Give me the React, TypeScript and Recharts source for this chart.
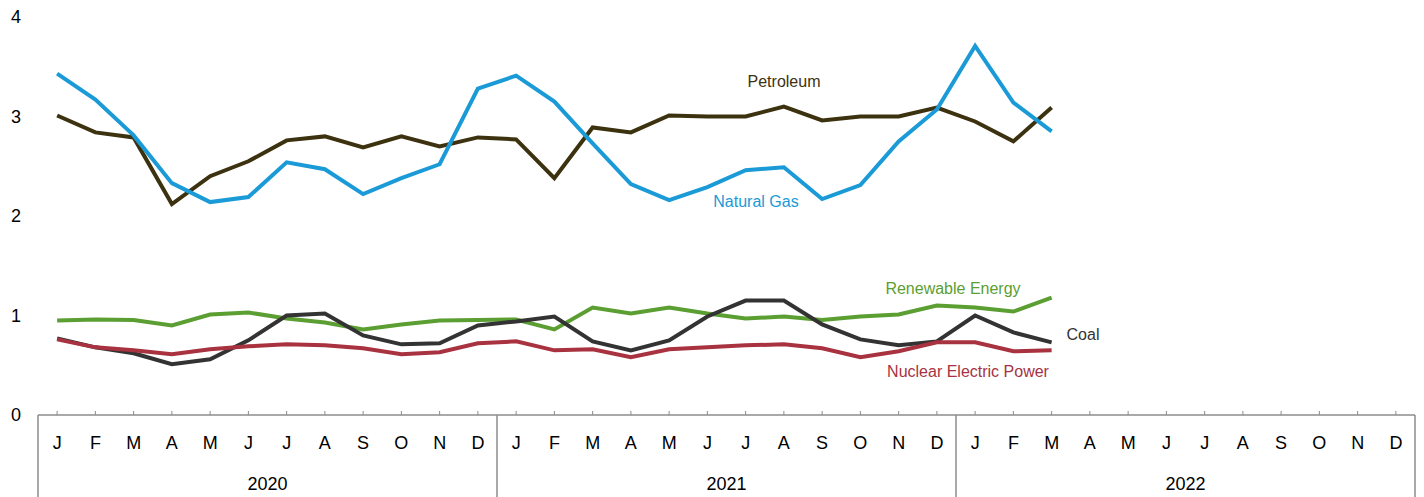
import React from 'react';
import { LineChart, Line, XAxis, YAxis, Customized } from 'recharts';

const months = ['J', 'F', 'M', 'A', 'M', 'J', 'J', 'A', 'S', 'O', 'N', 'D'];
const years = ['2020', '2021', '2022'];

// monthly values, Jan 2020 .. Mar 2022
const petroleum = [3.01, 2.84, 2.79, 2.12, 2.4, 2.55, 2.76, 2.8, 2.69, 2.8, 2.7, 2.79,
  2.77, 2.38, 2.89, 2.84, 3.01, 3.0, 3.0, 3.1, 2.96, 3.0, 3.0, 3.09,
  2.95, 2.75, 3.09];
const naturalGas = [3.43, 3.17, 2.81, 2.33, 2.14, 2.19, 2.54, 2.47, 2.22, 2.38, 2.52, 3.28,
  3.41, 3.15, 2.73, 2.32, 2.16, 2.29, 2.46, 2.49, 2.17, 2.31, 2.75, 3.07,
  3.71, 3.14, 2.85];
const renewable = [0.95, 0.96, 0.955, 0.9, 1.01, 1.03, 0.97, 0.93, 0.86, 0.91, 0.95, 0.955,
  0.96, 0.86, 1.08, 1.02, 1.08, 1.02, 0.97, 0.99, 0.955, 0.99, 1.01, 1.1,
  1.08, 1.04, 1.18];
const coal = [0.77, 0.68, 0.62, 0.51, 0.56, 0.75, 1.0, 1.02, 0.8, 0.71, 0.72, 0.9,
  0.94, 0.99, 0.74, 0.65, 0.75, 0.99, 1.15, 1.15, 0.91, 0.76, 0.7, 0.74,
  1.0, 0.83, 0.73];
const nuclear = [0.76, 0.68, 0.65, 0.61, 0.66, 0.69, 0.71, 0.7, 0.67, 0.61, 0.63, 0.72,
  0.74, 0.65, 0.66, 0.58, 0.66, 0.68, 0.7, 0.71, 0.67, 0.58, 0.64, 0.73,
  0.73, 0.64, 0.65];

const yTicks = [0, 1, 2, 3, 4];

const data = years.flatMap((yr, yi) =>
  months.map((m, mi) => {
    const i = yi * 12 + mi;
    return {
      key: `${yr}-${mi}`,
      month: m,
      petroleum: petroleum[i] ?? null,
      naturalGas: naturalGas[i] ?? null,
      renewable: renewable[i] ?? null,
      coal: coal[i] ?? null,
      nuclear: nuclear[i] ?? null,
    };
  })
);

const FONT = '"Liberation Sans", Arial, sans-serif';
const GRID = '#8c8c8c';
const BAND = 1377 / 36;

const MonthTick = (props: any) => {
  const { x, y, index } = props;
  const mi = index % 12;
  const yi = Math.floor(index / 12);
  return (
    <g>
      <line x1={x} x2={x} y1={y - 4} y2={y} stroke={GRID} strokeWidth={1} />
      <text x={x} y={y + 34} textAnchor="middle" fontSize={18} fill="#000" fontFamily={FONT}>
        {months[mi]}
      </text>
      {mi === 0 && (
        <line x1={x - BAND / 2} x2={x - BAND / 2} y1={y} y2={y + 90} stroke={GRID} strokeWidth={1.5} />
      )}
      {index === 35 && (
        <line x1={x + BAND / 2} x2={x + BAND / 2} y1={y} y2={y + 90} stroke={GRID} strokeWidth={1.5} />
      )}
      {mi === 5 && (
        <text x={x + BAND / 2} y={y + 75} textAnchor="middle" fontSize={18} fill="#000" fontFamily={FONT}>
          {years[yi]}
        </text>
      )}
    </g>
  );
};

const SeriesLabels = () => (
  <g fontFamily={FONT} fontSize={16}>
    <text x={784} y={87} textAnchor="middle" fill="#3d3210">Petroleum</text>
    <text x={756} y={207} textAnchor="middle" fill="#1a9ad6">Natural Gas</text>
    <text x={953} y={294} textAnchor="middle" fill="#5b9e32">Renewable Energy</text>
    <text x={1083} y={340} textAnchor="middle" fill="#333333">Coal</text>
    <text x={968} y={377} textAnchor="middle" fill="#a8323f">Nuclear Electric Power</text>
  </g>
);

export default function App() {
  return (
    <div style={{ position: 'absolute', left: 0, top: 0, background: '#fff' }}>
      <LineChart
        width={1424}
        height={497}
        data={data}
        margin={{ top: 17, right: 9, left: 0, bottom: 0 }}
      >
        <XAxis
          dataKey="key"
          scale="band"
          interval={0}
          tickSize={0}
          tickMargin={0}
          tickLine={false}
          axisLine={{ stroke: GRID, strokeWidth: 1.5 }}
          tick={<MonthTick />}
          height={82}
        />
        <YAxis
          width={38}
          domain={[0, 4]}
          ticks={yTicks}
          axisLine={false}
          tickLine={false}
          tickSize={0}
          tickMargin={17}
          tick={{ fontSize: 18, fill: '#000', fontFamily: FONT }}
        />
        <Line dataKey="petroleum" stroke="#3d3210" strokeWidth={4} dot={false} isAnimationActive={false} />
        <Line dataKey="naturalGas" stroke="#1a9ad6" strokeWidth={4} dot={false} isAnimationActive={false} />
        <Line dataKey="renewable" stroke="#5b9e32" strokeWidth={4} dot={false} isAnimationActive={false} />
        <Line dataKey="coal" stroke="#333333" strokeWidth={4} dot={false} isAnimationActive={false} />
        <Line dataKey="nuclear" stroke="#a8323f" strokeWidth={4} dot={false} isAnimationActive={false} />
        <Customized component={SeriesLabels} />
      </LineChart>
    </div>
  );
}
